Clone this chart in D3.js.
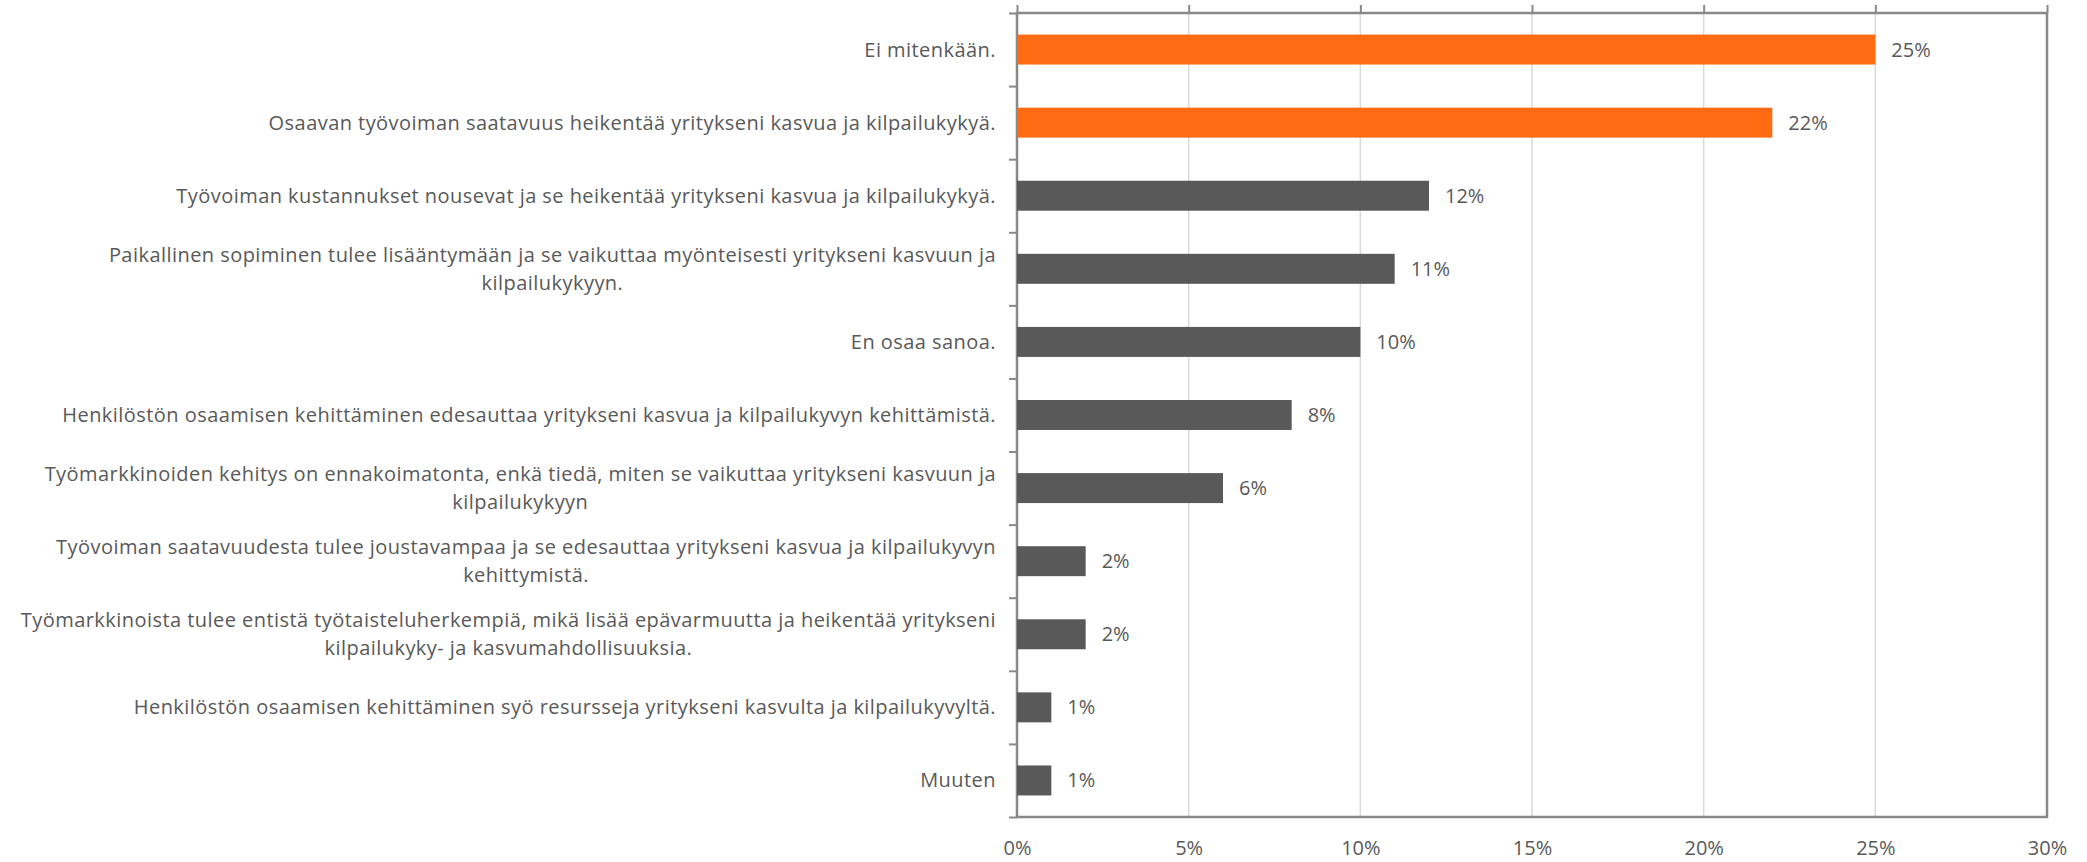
<!DOCTYPE html>
<html lang="fi">
<head>
<meta charset="UTF-8">
<title>Työmarkkinat ja yrityksen kasvu</title>
<script src="https://cdn.jsdelivr.net/npm/d3@7"></script>
<style>
  body { margin: 0; background: #fff; }
  svg { display: block; font-family: "Open Sans", sans-serif; }
  .domain { display: none; }
</style>
</head>
<body>
<script>
  // vastausvaihtoehdot (rivinvaihto \n kuten alkuperäisessä)
  const categories = [
    "Ei mitenkään.",
    "Osaavan työvoiman saatavuus heikentää yritykseni kasvua ja kilpailukykyä.",
    "Työvoiman kustannukset nousevat ja se heikentää yritykseni kasvua ja kilpailukykyä.",
    "Paikallinen sopiminen tulee lisääntymään ja se vaikuttaa myönteisesti yritykseni kasvuun ja\nkilpailukykyyn.",
    "En osaa sanoa.",
    "Henkilöstön osaamisen kehittäminen edesauttaa yritykseni kasvua ja kilpailukyvyn kehittämistä.",
    "Työmarkkinoiden kehitys on ennakoimatonta, enkä tiedä, miten se vaikuttaa yritykseni kasvuun ja\nkilpailukykyyn",
    "Työvoiman saatavuudesta tulee joustavampaa ja se edesauttaa yritykseni kasvua ja kilpailukyvyn\nkehittymistä.",
    "Työmarkkinoista tulee entistä työtaisteluherkempiä, mikä lisää epävarmuutta ja heikentää yritykseni\nkilpailukyky- ja kasvumahdollisuuksia.",
    "Henkilöstön osaamisen kehittäminen syö resursseja yritykseni kasvulta ja kilpailukyvyltä.",
    "Muuten"
  ];
  const values = [25, 22, 12, 11, 10, 8, 6, 2, 2, 1, 1];
  // kaksi suurinta korostetaan oranssilla
  const highlighted = ["Ei mitenkään.", "Osaavan työvoiman saatavuus heikentää yritykseni kasvua ja kilpailukykyä."];
  const xTicks = [0, 5, 10, 15, 20, 25, 30];

  const width = 2087, height = 862;
  const margin = {top: 13, right: 40, bottom: 45, left: 1017};
  const textColor = "#595959";
  const axisColor = "#898989";

  const svg = d3.select("body").append("svg")
    .attr("width", width)
    .attr("height", height);

  const x = d3.scaleLinear()
    .domain([0, 30])
    .range([margin.left, width - margin.right]);

  const y = d3.scaleBand()
    .domain(categories)
    .range([margin.top, height - margin.bottom])
    .paddingInner(0.59)
    .paddingOuter(0.295);

  const yTicks = d3.scaleLinear()
    .domain([0, categories.length])
    .range([margin.top, height - margin.bottom]);

  // pystysuorat apuviivat
  svg.append("g")
    .selectAll("line")
    .data(xTicks)
    .join("line")
    .attr("x1", d => x(d)).attr("x2", d => x(d))
    .attr("y1", margin.top).attr("y2", height - margin.bottom)
    .attr("stroke", "#d9d9d9")
    .attr("stroke-width", 1.5);

  // yläreunan tikit
  svg.append("g")
    .attr("transform", `translate(0,${margin.top})`)
    .call(d3.axisTop(x).tickValues(xTicks).tickSize(8).tickFormat(""))
    .call(g => g.selectAll(".tick line").attr("stroke", axisColor).attr("stroke-width", 2));

  // alareunan tikkiteksti
  svg.append("g")
    .attr("transform", `translate(0,${height - margin.bottom})`)
    .call(d3.axisBottom(x).tickValues(xTicks).tickSize(0).tickPadding(24).tickFormat(d => d + "%"))
    .call(g => g.selectAll("text")
      .attr("fill", textColor)
      .attr("font-size", 20)
      .attr("font-family", "Open Sans, sans-serif"));

  // kehys
  svg.append("rect")
    .attr("x", x(0)).attr("y", margin.top)
    .attr("width", x(30) - x(0))
    .attr("height", height - margin.bottom - margin.top)
    .attr("fill", "none")
    .attr("stroke", axisColor)
    .attr("stroke-width", 2.5);

  // vasemman akselin tikit luokkien rajoilla
  svg.append("g")
    .attr("transform", `translate(${margin.left},0)`)
    .call(d3.axisLeft(yTicks).ticks(categories.length).tickSize(8).tickFormat(""))
    .call(g => g.selectAll(".tick line").attr("stroke", axisColor).attr("stroke-width", 2));

  // palkit
  svg.append("g")
    .selectAll("rect")
    .data(categories)
    .join("rect")
    .attr("x", x(0))
    .attr("y", d => y(d))
    .attr("width", (d, i) => x(values[i]) - x(0))
    .attr("height", y.bandwidth())
    .attr("fill", d => highlighted.includes(d) ? "#ff6b13" : "#595959");

  // arvotekstit
  svg.append("g")
    .selectAll("text")
    .data(categories)
    .join("text")
    .attr("x", (d, i) => x(values[i]) + 16)
    .attr("y", d => y(d) + y.bandwidth() / 2)
    .attr("dy", "0.35em")
    .attr("fill", textColor)
    .attr("font-size", 20)
    .text((d, i) => values[i] + "%");

  // luokkien nimet: rivit keskitetään, lohko tasataan oikealle
  const labelRight = margin.left - 21;
  const lineHeight = 28;
  const labels = svg.append("g")
    .selectAll("text")
    .data(categories)
    .join("text")
    .attr("fill", textColor)
    .attr("font-size", 20)
    .attr("letter-spacing", 0.45)
    .attr("text-anchor", "middle");

  labels.each(function (d) {
    const el = d3.select(this);
    const lines = d.split("\n");
    const cy = y(d) + y.bandwidth() / 2;
    const spans = lines.map((line, k) => el.append("tspan")
      .attr("y", cy + (k - (lines.length - 1) / 2) * lineHeight)
      .attr("dy", "0.35em")
      .text(line));
    const maxW = d3.max(spans, s => s.node().getComputedTextLength());
    spans.forEach(s => s.attr("x", labelRight - maxW / 2));
  });
</script>
</body>
</html>
